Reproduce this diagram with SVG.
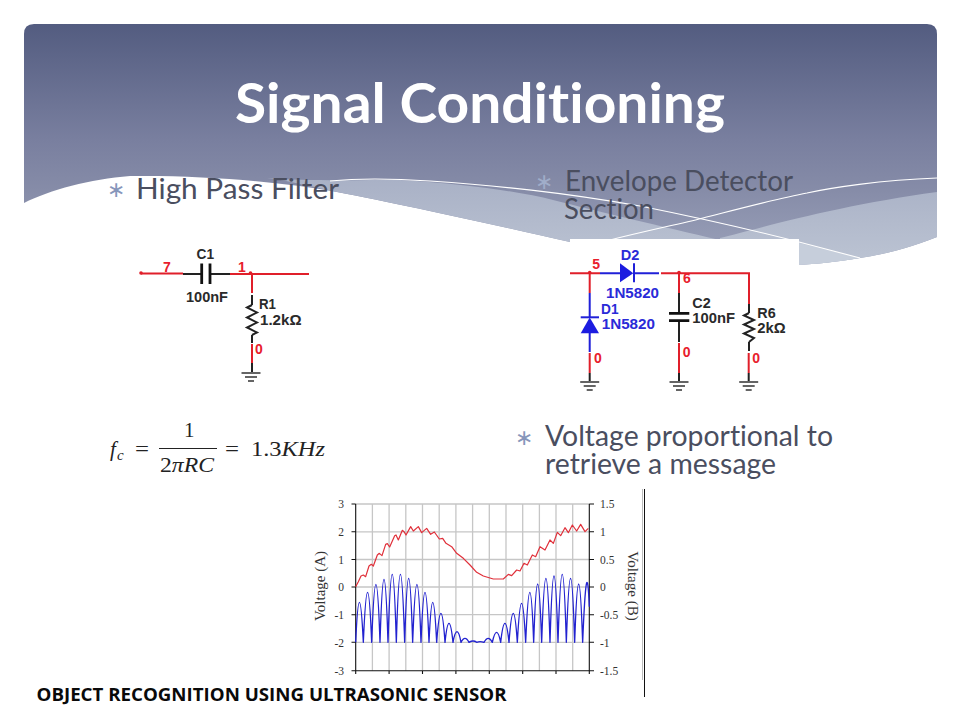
<svg xmlns="http://www.w3.org/2000/svg" width="960" height="720" viewBox="0 0 960 720">
<style>
.title{font-family:"Lato","Open Sans",sans-serif;font-weight:700;font-size:55px;fill:#fff;font-variant-ligatures:none}
.body{font-family:"Lato","Open Sans",sans-serif;font-size:28px;fill:#4a4e5f;font-variant-ligatures:none}
.bul{font-family:"DejaVu Sans",sans-serif;font-size:22px;fill:#8696bb}
.foot{font-family:"Open Sans",sans-serif;font-weight:700;font-size:17.5px;fill:#0a0a0a}
.m{font-family:"Liberation Serif",serif;font-size:21px;fill:#222}
.mi{font-style:italic}
.c{font-family:"Liberation Sans",sans-serif;font-weight:700;font-size:14px}
.k{fill:#2a2a2a}.r{fill:#e8202c}.b{fill:#2a2ad8}
.wr{fill:none;stroke:#e01f2a;stroke-width:2}
.wk{fill:none;stroke:#222;stroke-width:2}
.wb{fill:none;stroke:#2020d8;stroke-width:2}
.plate{fill:none;stroke:#111;stroke-width:2.8}
.gnd{fill:none;stroke:#333;stroke-width:1.5}
.t{font-family:"Liberation Serif",serif;font-size:11.5px;fill:#333}
.al{font-family:"Liberation Serif",serif;font-size:15px;fill:#333}
</style>
<defs>
<linearGradient id="band" gradientUnits="userSpaceOnUse" x1="0" y1="24" x2="0" y2="265">
<stop offset="0" stop-color="#535c80"/><stop offset="0.48" stop-color="#797f9f"/><stop offset="0.69" stop-color="#868ca8"/><stop offset="1" stop-color="#9ca3bb"/>
</linearGradient>
<linearGradient id="light" gradientUnits="userSpaceOnUse" x1="0" y1="180" x2="0" y2="265">
<stop offset="0" stop-color="#a9b1c6"/><stop offset="1" stop-color="#bcc4d3"/>
</linearGradient>
<g id="ground"><path class="gnd" d="M-9.5,0H9.5M-6,4H6M-3,8H3"/></g>
</defs>
<rect width="960" height="720" fill="#fff"/>
<g id="header-band">
<path fill="url(#band)" d="M24,34Q24,24 34,24H927Q937,24 937,34V237C910,248 885,254 860,258C835,262 815,264 799,265C740,268 640,258 570,242C500,226 400,204 337,192C290,183 210,175 130,176C90,179 50,190 24,203Z"/>
<path fill="url(#light)" d="M267,178C300,181 350,180 400,180C470,184 520,192 553,200C600,212 660,226 720,240L720,262L700,260C660,256 610,251 570,242C500,226 400,204 337,192C310,186 290,181 267,178Z"/>
<path fill="url(#light)" d="M720,238C760,228 840,205 937,192V237C910,248 885,254 860,258C835,262 815,264 799,265L720,262Z"/>
<path fill="#c6cedb" d="M799,243L860,258C835,262 815,264 799,265Z"/>
<path fill="none" stroke="#fff" stroke-width="1.1" d="M330,181C360,178 400,179 430,181C500,186 560,192 640,206C700,218 760,232 799,242L860,258"/>
<path fill="none" stroke="#fff" stroke-width="1.1" d="M610,240C650,230 680,224 703,218C750,206 780,198 807,193C830,188 880,180 937,178"/>
<rect x="570" y="239" width="229" height="40" fill="#fff"/>
</g>
<text id="title" class="title" x="235" y="123" textLength="490" lengthAdjust="spacingAndGlyphs">Signal Conditioning</text>
<g id="bullets">
<text class="bul" x="107" y="197">∗</text>
<text class="body" x="136" y="199" textLength="203" lengthAdjust="spacingAndGlyphs">High Pass Filter</text>
<text class="bul" x="535" y="189" style="fill:#a0adc9">∗</text>
<text class="body" x="565" y="191" textLength="228" lengthAdjust="spacingAndGlyphs">Envelope Detector</text>
<text class="body" x="564" y="219" textLength="90" lengthAdjust="spacingAndGlyphs">Section</text>
<text class="bul" x="515" y="445">∗</text>
<text class="body" x="545" y="446" textLength="288" lengthAdjust="spacingAndGlyphs">Voltage proportional to</text>
<text class="body" x="545" y="474" textLength="231" lengthAdjust="spacingAndGlyphs">retrieve a message</text>
</g>
<g id="connectors">
<path class="wr" d="M141,273.5H183M230,274H309M252,274V293M252,344V363"/>
<path class="wk" d="M183,274H201M210,274H230M252,295V305M252,335V343M252,363V372"/>
<path class="wr" d="M570,273.3H600M661,273.3H749V304M589.7,273.3V293M589.7,353V373M679,273.3V293M679,343V373M748.7,353V373"/>
<path class="wb" d="M600,273.3H620M634,273.3H659M589.7,293V317M589.7,333V352"/>
<path class="wk" d="M679,293V313M679,321V342M749,304V313M749,342V351M589.7,373V381M679,373V381M748.7,373V381"/>
</g>
<g id="C1"><path class="plate" d="M201.7,263.5V284M210,263.5V284"/><text class="c k" x="196.5" y="259.3" textLength="17.5" lengthAdjust="spacingAndGlyphs">C1</text><text class="c k" x="186" y="301.7" textLength="42" lengthAdjust="spacingAndGlyphs">100nF</text></g>
<g id="R1"><path class="wk" d="M252,305L247,307.5L257,312.5L247,317.5L257,322.5L247,327.5L257,332.5L252,335"/><text class="c k" x="259" y="309.3" textLength="17" lengthAdjust="spacingAndGlyphs">R1</text><text class="c k" x="260" y="325" textLength="41.5" lengthAdjust="spacingAndGlyphs">1.2kΩ</text></g>
<g id="nodes-left">
<circle cx="141" cy="273" r="1.8" fill="#e01f2a"/><circle cx="250.5" cy="273" r="1.8" fill="#e01f2a"/>
<text class="c r" x="163" y="271.7">7</text><text class="c r" x="238" y="271.7">1</text><text class="c r" x="255" y="354">0</text>
<use href="#ground" x="251" y="373"/>
</g>
<g id="D2"><path d="M620,263.3V282.3L633.3,273.3Z" fill="#1c1ce0"/><path class="wb" d="M634,263.3V282.3"/><text class="c b" x="620.7" y="260" textLength="18.6" lengthAdjust="spacingAndGlyphs">D2</text><text class="c b" x="606" y="297.7" textLength="53" lengthAdjust="spacingAndGlyphs">1N5820</text></g>
<g id="D1"><path d="M580.7,333.3H599L589.7,317.5Z" fill="#1c1ce0"/><path class="wb" d="M580.7,317.3H599"/><text class="c b" x="601" y="314" textLength="17.5" lengthAdjust="spacingAndGlyphs">D1</text><text class="c b" x="601.7" y="329" textLength="53.3" lengthAdjust="spacingAndGlyphs">1N5820</text></g>
<g id="C2"><path class="plate" d="M669,313.3H689.3M669,320.7H689.3"/><text class="c k" x="692.3" y="308.3" textLength="18.4" lengthAdjust="spacingAndGlyphs">C2</text><text class="c k" x="692.3" y="323.3" textLength="42.7" lengthAdjust="spacingAndGlyphs">100nF</text></g>
<g id="R6"><path class="wk" d="M749,313L744,315.5L754,320L744,324.5L754,329L744,333.5L754,338L749,342"/><text class="c k" x="757.3" y="318.3" textLength="18.4" lengthAdjust="spacingAndGlyphs">R6</text><text class="c k" x="757.3" y="333.3" textLength="28.4" lengthAdjust="spacingAndGlyphs">2kΩ</text></g>
<g id="nodes-right">
<circle cx="589.7" cy="272.5" r="1.8" fill="#e01f2a"/><circle cx="679" cy="272.5" r="1.8" fill="#e01f2a"/>
<text class="c r" x="592.3" y="269.3">5</text><text class="c r" x="683" y="283.3">6</text>
<text class="c r" x="594" y="362.7">0</text><text class="c r" x="682.7" y="356.7">0</text><text class="c r" x="752.3" y="362.7">0</text>
<use href="#ground" x="589.7" y="382"/><use href="#ground" x="679" y="382"/><use href="#ground" x="748.7" y="382"/>
</g>
<g id="formula">
<text class="m mi" x="110" y="456">f</text><text class="m mi" x="117" y="460" style="font-size:15px">c</text>
<text class="m" x="135" y="456" textLength="14" lengthAdjust="spacingAndGlyphs">=</text>
<text class="m" x="184" y="437">1</text>
<path d="M159,448.5H217" stroke="#222" stroke-width="1.1"/>
<text class="m" x="160" y="472" textLength="54" lengthAdjust="spacingAndGlyphs">2<tspan class="mi">πRC</tspan></text>
<text class="m" x="225" y="456" textLength="14" lengthAdjust="spacingAndGlyphs">=</text>
<text class="m" x="251" y="456" textLength="74" lengthAdjust="spacingAndGlyphs">1.3<tspan class="mi">KHz</tspan></text>
</g>
<g id="chart">
<path fill="none" stroke="#c6c6c6" stroke-width="1.3" d="M372.4,504V670.7M389.1,504V670.7M405.8,504V670.7M422.5,504V670.7M439.2,504V670.7M455.9,504V670.7M472.6,504V670.7M489.3,504V670.7M506,504V670.7M522.7,504V670.7M539.4,504V670.7M556,504V670.7M572.7,504V670.7M355.7,504H589.3M355.7,531.8H589.3M355.7,559.5H589.3M355.7,587H589.3M355.7,614.7H589.3M355.7,642.3H589.3"/>
<path fill="none" stroke="#111" stroke-width="1.1" d="M355.7,504V670.7H589.3V504M351.5,504H355.7M351.5,531.8H355.7M351.5,559.5H355.7M351.5,587H355.7M351.5,614.7H355.7M351.5,642.3H355.7M351.5,670.7H355.7M589.3,504H594M589.3,531.8H594M589.3,559.5H594M589.3,587H594M589.3,614.7H594M589.3,642.3H594M589.3,670.7H594M355.7,670.7V674M389.1,670.7V674M422.5,670.7V674M455.9,670.7V674M489.3,670.7V674M522.7,670.7V674M556,670.7V674M589.3,670.7V674"/>
<g transform="translate(300,485) scale(0.33333)">
<path fill="none" stroke="#2222d0" stroke-width="4" stroke-linejoin="round" d="M167,472Q178,232 190,472Q203,172 215,472Q228,124 240,472Q252,94 264,472Q277,64 289,472Q301,64 314,472Q326,88 338,472Q351,124 363,472Q375,172 387,472Q398,232 410,472Q423,298 435,472Q447,358 459,472Q471,408 483,472Q495,448 507,472Q520,464 530,472Q540,468 552,472Q565,448 577,472Q590,412 602,472Q615,358 627,472Q640,298 652,472Q665,238 677,472Q690,172 701,472Q713,122 725,472Q738,88 750,472Q762,74 774,472Q787,64 799,472Q812,88 824,472Q836,122 848,472Q860,178 868,365"/>
<path fill="none" stroke="#e0303a" stroke-width="3.6" stroke-linejoin="round" d="M167,305L175,290L183,273L190,270L197,275L207,243L214,238L220,243L232,210L238,205L246,212L257,178L262,176L269,186L284,152L288,150L295,165L307,136L312,140L318,150L332,125L340,138L355,125L365,143L380,130L392,148L403,141L418,162L428,160L438,175L455,185L470,205L490,220L510,240L530,262L550,273L580,282L610,282L625,268L635,272L650,255L660,258L672,235L682,240L697,210L707,215L720,185L735,195L750,165L760,175L772,142L782,152L795,128L805,143L817,120L830,138L842,118L855,140L865,130"/>
</g>
<g text-anchor="end">
<text class="t" x="344" y="508">3</text><text class="t" x="344" y="536">2</text><text class="t" x="344" y="563.5">1</text><text class="t" x="344" y="591">0</text><text class="t" x="344" y="619">-1</text><text class="t" x="344" y="646.5">-2</text><text class="t" x="344" y="674.5">-3</text>
</g>
<text class="t" x="600" y="508">1.5</text><text class="t" x="600" y="536">1</text><text class="t" x="600" y="563.5">0.5</text><text class="t" x="600" y="591">0</text><text class="t" x="600" y="619">-0.5</text><text class="t" x="600" y="646.5">-1</text><text class="t" x="600" y="674.5">-1.5</text>
<text class="al" transform="translate(325,586) rotate(-90)" text-anchor="middle">Voltage (A)</text>
<text class="al" transform="translate(628,586) rotate(90)" text-anchor="middle">Voltage (B)</text>
<path d="M642.5,489V680" stroke="#bbb" stroke-width="1"/>
<path d="M644.5,489V697" stroke="#111" stroke-width="1"/>
</g>
<text id="footer" class="foot" x="36.5" y="701" textLength="470" lengthAdjust="spacingAndGlyphs">OBJECT RECOGNITION USING ULTRASONIC SENSOR</text>
</svg>
